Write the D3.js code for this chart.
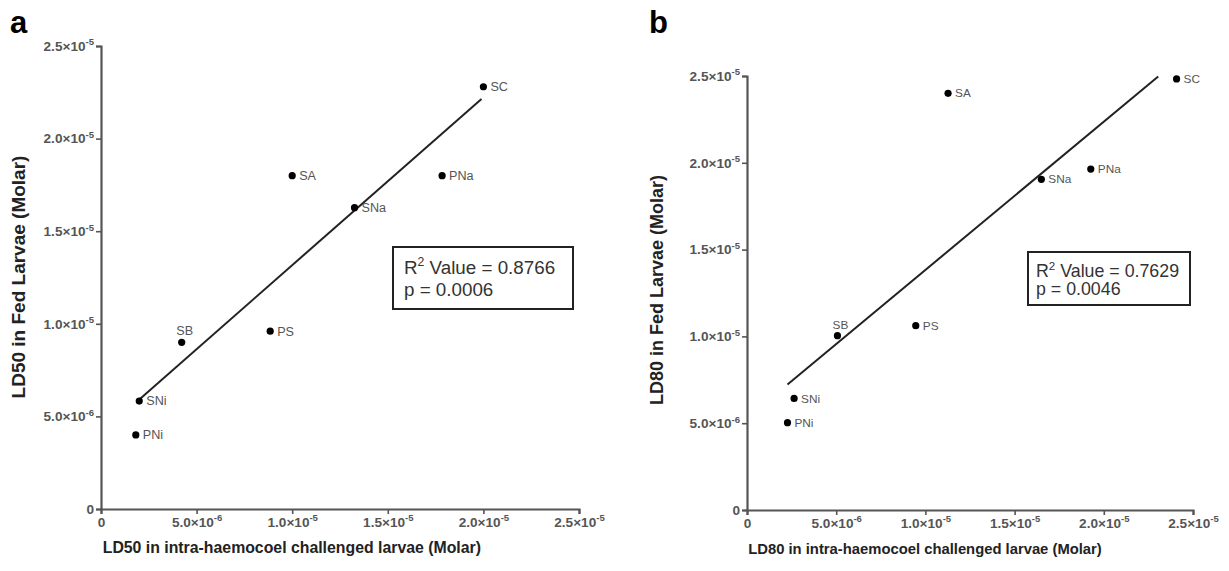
<!DOCTYPE html>
<html><head><meta charset="utf-8">
<script src="https://cdn.jsdelivr.net/npm/d3@7"></script>
<style>
html,body{margin:0;padding:0;background:#fff;}
svg{display:block;font-family:"Liberation Sans",Arial,sans-serif;}
</style></head>
<body>
<svg id="chart" width="1229" height="571"></svg>
<script>
// ---- data ----
const compounds = ["SC","SA","PNa","SNa","SB","PS","SNi","PNi"];
const ld50Injected = [2.0e-5, 1.0e-5, 1.784e-5, 1.326e-5, 4.22e-6, 8.85e-6, 2.0e-6, 1.82e-6];
const ld50Fed      = [2.28e-5, 1.80e-5, 1.80e-5, 1.627e-5, 9.0e-6, 9.6e-6, 5.83e-6, 4.0e-6];
const ld80Injected = [2.408e-5, 1.127e-5, 1.927e-5, 1.65e-5, 5.07e-6, 9.46e-6, 2.64e-6, 2.27e-6];
const ld80Fed      = [2.483e-5, 2.40e-5, 1.964e-5, 1.905e-5, 1.004e-5, 1.062e-5, 6.43e-6, 5.03e-6];
const fitRangeA = [1.9e-6, 1.99e-5];
const fitRangeB = [2.27e-6, 2.305e-5];
const tickValues = [0, 5e-6, 1e-5, 1.5e-5, 2e-5, 2.5e-5];
const tickMant = ["0","5.0","1.0","1.5","2.0","2.5"];
const tickExp  = ["","-6","-5","-5","-5","-5"];
const r2Values = ["0.8766","0.7629"];
const pValues  = ["0.0006","0.0046"];
const panelLetters = ["a","b"];
const xTitles = ["LD50 in intra-haemocoel challenged larvae (Molar)","LD80 in intra-haemocoel challenged larvae (Molar)"];
const yTitles = ["LD50 in Fed Larvae (Molar)","LD80 in Fed Larvae (Molar)"];

// ---- layout ----
const panels = [
  {x: ld50Injected, y: ld50Fed, fit: fitRangeA, xr:[101,579], yr:[509,46], s:1.07, yfs:19, yCenter:277,
   letter:[10,33], yTitleX:18, box:[393,247,180,62], textX:404, base1:274, base2:296, fsb:18.8},
  {x: ld80Injected, y: ld80Fed, fit: fitRangeB, xr:[747,1193], yr:[510,76], s:1.0, yfs:18, yCenter:290,
   letter:[649,33], yTitleX:657, box:[1028,252,162,53], textX:1036, base1:277, base2:295, fsb:17.8}
];

const svg = d3.select("#chart");
const axisColor = "#555";

function tickLabel(sel, fs){
  sel.each(function(d){
    const i = tickValues.indexOf(d);
    const t = d3.select(this);
    t.text(null);
    t.append("tspan").text(tickMant[i] === "0" ? "0" : tickMant[i] + "\u00D710");
    if (tickExp[i]) t.append("tspan").attr("dy", -fs*0.4).attr("font-size", fs*0.7).text(tickExp[i]);
  });
}

panels.forEach((p, k) => {
  const g = svg.append("g");
  const x = d3.scaleLinear().domain([0, 2.5e-5]).range(p.xr);
  const y = d3.scaleLinear().domain([0, 2.5e-5]).range(p.yr);
  const fs = 13.6;

  // letter
  svg.append("text").attr("x", p.letter[0]).attr("y", p.letter[1])
    .attr("font-size", 31).attr("font-weight", "bold").attr("fill", "#000").text(panelLetters[k]);

  // axes
  const yAxis = d3.axisLeft(y).tickValues(tickValues).tickSize(5).tickPadding(2);
  const xAxis = d3.axisBottom(x).tickValues(tickValues).tickSize(5).tickPadding(3);
  const gy = g.append("g").attr("transform", `translate(${p.xr[0]},0)`).call(yAxis);
  const gx = g.append("g").attr("transform", `translate(0,${p.yr[0]})`).call(xAxis);
  [gy, gx].forEach(ax => {
    ax.select(".domain").attr("stroke", axisColor).attr("stroke-width", 2.2);
    ax.selectAll(".tick line").attr("stroke", axisColor).attr("stroke-width", 1.6);
    ax.selectAll(".tick text").attr("fill", "#555").attr("font-size", fs)
      .attr("font-weight", "bold").attr("font-family", "Liberation Sans, Arial, sans-serif")
      .call(tickLabel, fs);
  });

  // titles
  g.append("text").attr("x", (p.xr[0] + p.xr[1]) / 2 - 45*p.s).attr("y", p.yr[0] + 44)
    .attr("text-anchor", "middle").attr("font-size", 14.8 * p.s).attr("font-weight", "bold")
    .attr("fill", "#222").text(xTitles[k]);
  g.append("text").attr("transform", `translate(${p.yTitleX},${p.yCenter}) rotate(-90)`)
    .attr("text-anchor", "middle").attr("dy", "0.35em").attr("font-size", p.yfs).attr("font-weight", "bold")
    .attr("fill", "#222").text(yTitles[k]);

  // regression line via least squares
  const n = p.x.length;
  const mx = d3.mean(p.x), my = d3.mean(p.y);
  let sxy = 0, sxx = 0;
  for (let i = 0; i < n; i++) { sxy += (p.x[i]-mx)*(p.y[i]-my); sxx += (p.x[i]-mx)**2; }
  const slope = sxy / sxx, icpt = my - slope * mx;
  g.append("line")
    .attr("x1", x(p.fit[0])).attr("y1", y(icpt + slope * p.fit[0]))
    .attr("x2", x(p.fit[1])).attr("y2", y(icpt + slope * p.fit[1]))
    .attr("stroke", "#222").attr("stroke-width", 2);

  // points
  compounds.forEach((c, i) => {
    g.append("circle").attr("cx", x(p.x[i])).attr("cy", y(p.y[i])).attr("r", 3.6).attr("fill", "#000");
    const lab = g.append("text").attr("font-size", 11.8 * p.s).attr("fill", "#555").text(c);
    if (c === "SB") {
      lab.attr("x", x(p.x[i]) + 3).attr("y", y(p.y[i]) - 7).attr("text-anchor", "middle");
    } else {
      lab.attr("x", x(p.x[i]) + 7).attr("y", y(p.y[i])).attr("dy", "0.35em");
    }
  });

  // stats box
  g.append("rect").attr("x", p.box[0]).attr("y", p.box[1]).attr("width", p.box[2]).attr("height", p.box[3])
    .attr("fill", "#fff").attr("stroke", "#222").attr("stroke-width", 2);
  const fsb = p.fsb;
  const t1 = g.append("text").attr("x", p.textX).attr("y", p.base1).attr("font-size", fsb).attr("fill", "#333");
  t1.append("tspan").text("R");
  t1.append("tspan").attr("dy", -fsb*0.4).attr("font-size", fsb*0.65).text("2");
  t1.append("tspan").attr("dy", fsb*0.4).text(" Value = " + r2Values[k]);
  g.append("text").attr("x", p.textX).attr("y", p.base2).attr("font-size", fsb).attr("fill", "#333")
    .text("p = " + pValues[k]);
});
</script>
</body></html>
